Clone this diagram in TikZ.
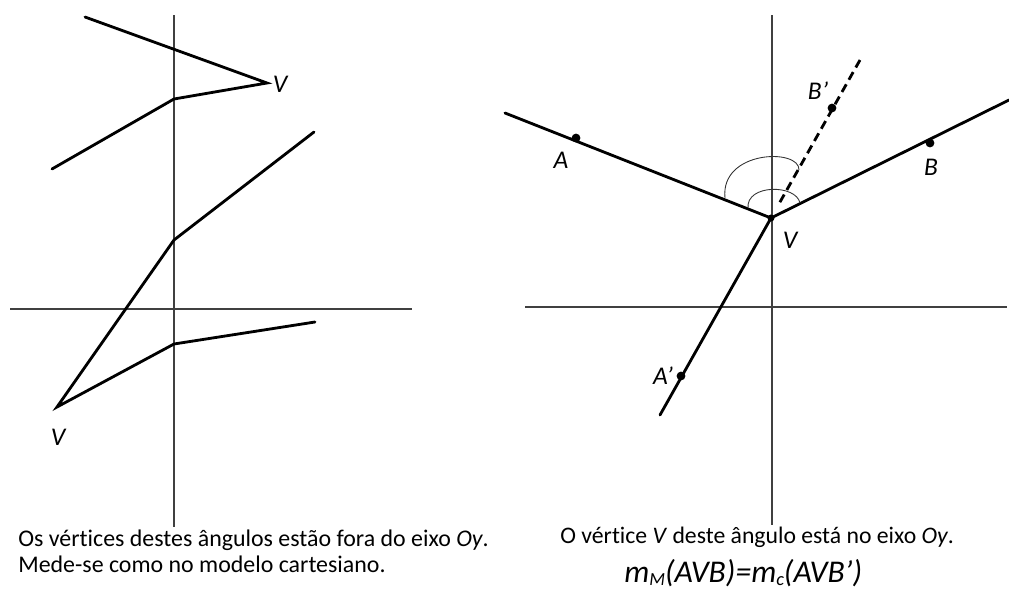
\documentclass[tikz,border=0pt]{standalone}
\usepackage{fontspec}
\setmainfont[Ligatures=NoCommon]{Carlito}
\usetikzlibrary{calc}

\begin{document}
\begin{tikzpicture}[x=0.02cm,y=-0.02cm,
	eixo/.style={line width=0.6pt, black!75},
	lado/.style={line width=1.6pt, line cap=round, line join=miter},
	tracejado/.style={lado, line cap=butt, dash pattern=on 5pt off 3pt},
	arco/.style={line width=0.5pt, black!80},
	ponto/.style={circle, fill, inner sep=0pt, minimum size=5pt},
	rotulo/.style={font=\itshape\fontsize{14.5}{16}\selectfont},
	legenda/.style={font=\fontsize{13.6}{16}\selectfont, anchor=base west, inner sep=0pt}]
	
	\useasboundingbox (0,0) rectangle (1009,589);
	
	% --- Left picture: axes ---
	\coordinate (Ly0) at (174,15);
	\coordinate (Ly1) at (174,527);
	\coordinate (Lx0) at (10,309);
	\coordinate (Lx1) at (412,309);
	\draw[eixo] (Ly0) -- (Ly1);
	\draw[eixo] (Lx0) -- (Lx1);
	
	% --- Upper angle (vertex off the axis) ---
	\coordinate (U0) at (85,17);
	\coordinate (UV) at (267,83);   % vertice
	\coordinate (U1) at (174,99);
	\coordinate (U2) at (52,169);
	\draw[lado] (U0) -- (UV) -- (U1) -- (U2);
	\node[rotulo] (labUV) at (280,84) {V};
	
	% --- Lower angle (vertex off the axis) ---
	\coordinate (W0) at (314,132);
	\coordinate (W1) at (174,240);
	\coordinate (WV) at (57,407);   % vertice
	\coordinate (W2) at (174,344);
	\coordinate (W3) at (315,322);
	\draw[lado] (W0) -- (W1) -- (WV) -- (W2) -- (W3);
	\node[rotulo] (labWV) at (58,437) {V};
	
	% --- Right picture: axes ---
	\coordinate (Ry0) at (772,15);
	\coordinate (Ry1) at (772,525);
	\coordinate (Rx0) at (525,307);
	\coordinate (Rx1) at (1007,307);
	\draw[eixo] (Ry0) -- (Ry1);
	\draw[eixo] (Rx0) -- (Rx1);
	
	% --- Angle AVB with vertex on Oy ---
	\coordinate (V) at (771,218);
	\coordinate (Aend) at (505,113);
	\coordinate (Bend) at (1009,100);
	\coordinate (A'end) at (660,415);
	\coordinate (B'end) at (860,60);
	\draw[lado] (Aend) -- (V) -- (Bend);
	\draw[lado] (V) -- (A'end);
	\draw[tracejado] ($(V)!0.1!(B'end)$) -- (B'end);
	
	% --- Points on the sides ---
	\node[ponto] (A) at (576,138) {};
	\node[ponto] (B) at (930,143) {};
	\node[ponto] (A') at (681,376) {};
	\node[ponto] (B') at (832,108) {};
	\node[ponto, minimum size=4pt] (Vp) at (V) {};
	
	\node[rotulo] (labA) at (561,160) {A};
	\node[rotulo] (labB) at (931,167) {B};
	\node[rotulo] (labA') at (663,376) {A\symbol{"27}};
	\node[rotulo] (labB') at (818,91) {B\symbol{"27}};
	\node[rotulo] (labV) at (790,240) {V};
	
	% --- Angle marks ---
	\draw[arco] (748,208) .. controls (746,184) and (796,184) .. (800,203);
	\draw[arco] (725,198) .. controls (720,150) and (800,148) .. (799,170);
	
	% --- Captions ---
	\node[legenda] (txtL1) at (18,546) {Os vértices destes ângulos estão fora do eixo \textit{Oy}.};
	\node[legenda] (txtL2) at (18,572) {Mede-se como no modelo cartesiano.};
	\node[legenda, font=\fontsize{13.5}{16}\selectfont] (txtR1) at (560,543) {O vértice \textit{V} deste ângulo está no eixo \textit{Oy}.};
	\node[legenda, font=\itshape\fontsize{18}{21}\selectfont] (txtR2) at (624,582)
		{m\raisebox{-0.1em}{\fontsize{10.5}{12}\selectfont M}(AVB)=m\raisebox{-0.1em}{\fontsize{10.5}{12}\selectfont c}(AVB\symbol{"27})};
	
\end{tikzpicture}
\end{document}
